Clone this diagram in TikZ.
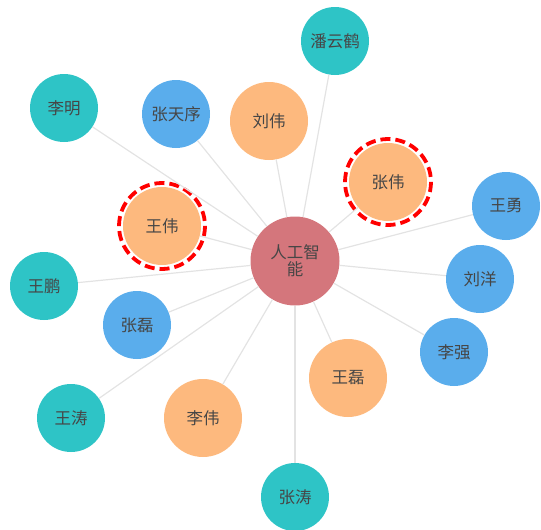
\documentclass[tikz,border=0pt]{standalone}
\usepackage{fontspec}
\newfontfamily\cjk{Noto Sans CJK SC}

\definecolor{nodeTeal}{HTML}{2EC4C6}
\definecolor{nodeBlue}{HTML}{5AADEC}
\definecolor{nodeOrange}{HTML}{FDB97E}
\definecolor{hubRed}{HTML}{D4767C}
\definecolor{edgeGray}{HTML}{E3E3E3}
\definecolor{textGray}{HTML}{464646}

\begin{document}
\begin{tikzpicture}[
  x=1pt, y=-1pt,
  person/.style={circle, inner sep=0pt, minimum size=68pt, align=center, font=\cjk\fontsize{16.5}{17}\selectfont, text=textGray},
  tealnode/.style={person, fill=nodeTeal},
  bluenode/.style={person, fill=nodeBlue},
  orangenode/.style={person, fill=nodeOrange, minimum size=78pt},
  hub/.style={person, fill=hubRed, minimum size=89pt},
  link/.style={draw=edgeGray, line width=1.2pt},
  ring/.style={draw=red, line width=3.8pt, dash pattern=on 10pt off 5pt}
]
\useasboundingbox (0,0) rectangle (541,530);

% Centre: the topic
\node[hub] (rgzn) at (295,261) {人工智\\能};

% Inner circle of people (orange)
\node[orangenode] (liuwei) at (269,121) {刘伟};
\node[orangenode] (zhangwei) at (388,182) {张伟};
\node[orangenode] (wangwei) at (162,226) {王伟};
\node[orangenode] (wanglei) at (348,378) {王磊};
\node[orangenode] (liwei) at (203,418) {李伟};

% Blue group
\node[bluenode] (zhangtianxu) at (176,114) {张天序};
\node[bluenode] (wangyong) at (506,206) {王勇};
\node[bluenode] (liuyang) at (480,279) {刘洋};
\node[bluenode] (zhanglei) at (137,325) {张磊};
\node[bluenode] (liqiang) at (454,352) {李强};

% Teal group
\node[tealnode] (panyunhe) at (335,41) {潘云鹤};
\node[tealnode] (liming) at (64,108) {李明};
\node[tealnode] (wangpeng) at (44,286) {王鹏};
\node[tealnode] (wangtao) at (71,418) {王涛};
\node[tealnode] (zhangtao) at (295,497) {张涛};

% Highlight rings
\draw[ring] (zhangwei.center) circle[radius=43];
\draw[ring] (wangwei.center) circle[radius=43];

% Links from the centre
\draw[link] (rgzn) -- (panyunhe);
\draw[link] (rgzn) -- (liming);
\draw[link] (rgzn) -- (zhangtianxu);
\draw[link] (rgzn) -- (liuwei);
\draw[link] (rgzn) -- (zhangwei);
\draw[link] (rgzn) -- (wangyong);
\draw[link] (rgzn) -- (wangwei);
\draw[link] (rgzn) -- (liuyang);
\draw[link] (rgzn) -- (wangpeng);
\draw[link] (rgzn) -- (zhanglei);
\draw[link] (rgzn) -- (liqiang);
\draw[link] (rgzn) -- (wanglei);
\draw[link] (rgzn) -- (wangtao);
\draw[link] (rgzn) -- (liwei);
\draw[link] (rgzn) -- (zhangtao);

\end{tikzpicture}
\end{document}
